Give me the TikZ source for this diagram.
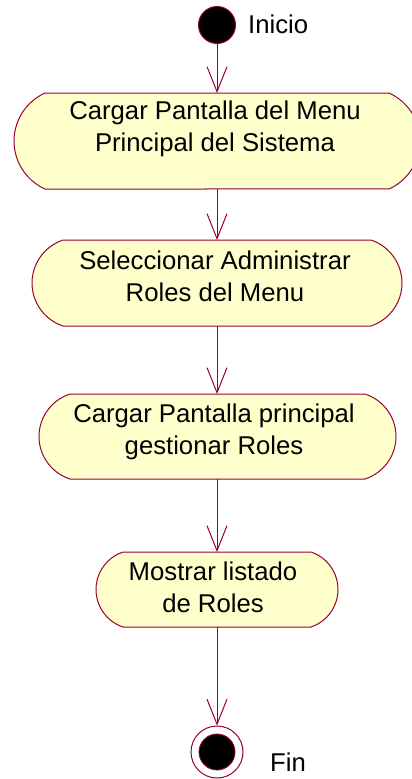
\documentclass[tikz,border=0pt]{standalone}
\usepackage{fontspec}
\setmainfont{Liberation Sans}
\usetikzlibrary{arrows.meta}
\definecolor{rose}{RGB}{153,0,51}
\definecolor{actfill}{RGB}{255,255,204}
\newcommand\actshape[5]{%
  \pgfmathsetmacro\actH{#4/2}%
  \pgfmathsetmacro\actR{(#5*#5+\actH*\actH)/(2*#5)}%
  \pgfmathsetmacro\actT{asin(\actH/\actR)}%
  \filldraw[actline] ({#1-#3/2+#5},{#2+\actH}) -- ({#1+#3/2-#5},{#2+\actH})
    arc[start angle=\actT, end angle=-\actT, radius=\actR pt]
    -- ({#1-#3/2+#5},{#2-\actH})
    arc[start angle=180+\actT, end angle=180-\actT, radius=\actR pt] -- cycle;
}
\begin{document}
\begin{tikzpicture}[x=1pt,y=1pt,
  actline/.style={draw=rose, fill=actfill, line width=1pt},
  anchorbox/.style={rectangle, draw=none, inner sep=0pt, outer sep=0pt},
  acttext/.style={align=center, inner sep=0pt, font={\fontsize{25.7pt}{32pt}\selectfont}},
  lbl/.style={inner sep=0pt, font={\fontsize{25.7pt}{32pt}\selectfont}},
  flow/.style={draw=rose, line width=1pt, -{Straight Barb[length=25pt,width=20pt,line width=1pt]}},
  startnode/.style={circle, fill=black, draw=rose, line width=1pt, minimum size=37pt, inner sep=0pt},
  endouter/.style={circle, fill=white, draw=rose, line width=1pt, minimum size=52pt, inner sep=0pt},
  endinner/.style={circle, fill=black, draw=rose, line width=0.8pt, minimum size=36pt, inner sep=0pt}
]
\useasboundingbox (0,0) rectangle (412,-779);

% start
\node[startnode] (s) at (217,-25) {};
\node[lbl, anchor=base west] (li) at (248,-33) {Inicio};

% activity 1
\actshape{217}{-141}{406}{96}{31}
\node[anchorbox, minimum width=406pt, minimum height=96pt] (a1) at (217,-141) {};
\node[acttext, anchor=base] (t1) at (215,-151.5) {Cargar Pantalla del Menu\\Principal del Sistema};

% activity 2
\actshape{217}{-283}{370}{86}{31}
\node[anchorbox, minimum width=370pt, minimum height=86pt] (a2) at (217,-283) {};
\node[acttext, anchor=base] (t2) at (215,-301) {Seleccionar Administrar\\Roles del Menu};

% activity 3
\actshape{217.5}{-436.5}{357}{85}{31}
\node[anchorbox, minimum width=357pt, minimum height=85pt] (a3) at (217,-436.5) {};
\node[acttext, anchor=base] (t3) at (214,-454) {Cargar Pantalla principal\\gestionar Roles};

% activity 4
\actshape{217}{-589.5}{242}{75}{27}
\node[anchorbox, minimum width=242pt, minimum height=75pt] (a4) at (217,-589.5) {};
\node[acttext, anchor=base] (t4) at (213,-612.7) {Mostrar listado\\de Roles};

% end
\node[endouter] (e) at (217,-752) {};
\node[endinner] (ei) at (e) {};
\node[lbl, anchor=base west] (lf) at (270,-771) {Fin};

% flows
\draw[flow] (s) -- (a1.north);
\draw[flow] (a1.south) -- (a2.north);
\draw[flow] (a2.south) -- (a3.north);
\draw[flow] (a3.south) -- (a4.north);
\draw[flow] (a4.south) -- (e.north);
\end{tikzpicture}
\end{document}
